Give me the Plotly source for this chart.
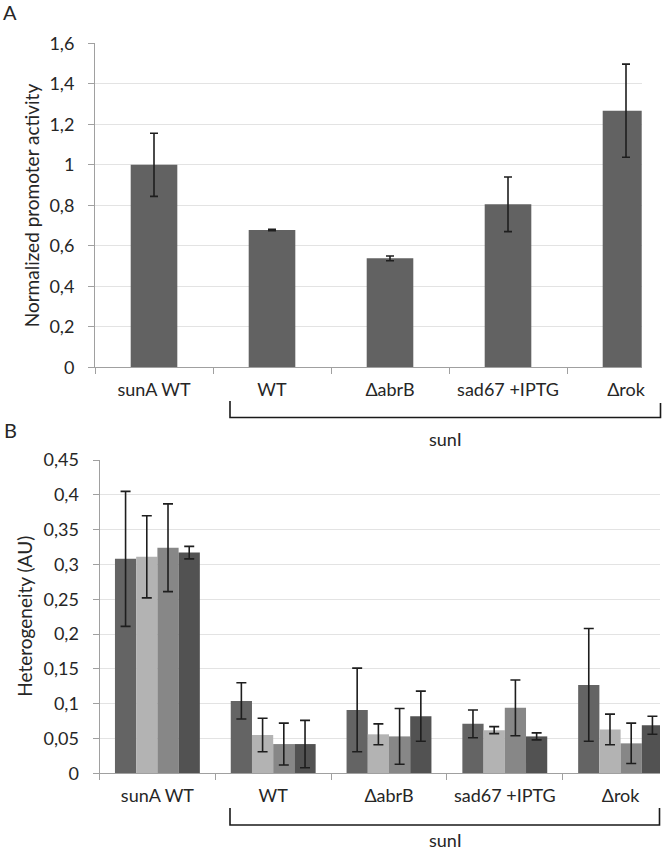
import plotly.graph_objects as go

W, H = 662, 853

# ---------------- data ----------------
categories = ["sunA WT", "WT", "ΔabrB", "sad67 +IPTG", "Δrok"]
group_label = "sunI"

# Panel A: normalized promoter activity
activity = [1.0, 0.678, 0.538, 0.805, 1.267]
activity_err = [0.156, 0.004, 0.012, 0.135, 0.23]

# Panel B: heterogeneity (AU), four replicates/series per category
het_s1 = [0.308, 0.104, 0.091, 0.071, 0.127]
het_s2 = [0.311, 0.055, 0.056, 0.062, 0.063]
het_s3 = [0.324, 0.042, 0.053, 0.094, 0.043]
het_s4 = [0.317, 0.042, 0.082, 0.053, 0.069]
het_s1_err = [0.097, 0.026, 0.060, 0.020, 0.081]
het_s2_err = [0.059, 0.024, 0.015, 0.005, 0.022]
het_s3_err = [0.063, 0.030, 0.040, 0.040, 0.029]
het_s4_err = [0.009, 0.034, 0.036, 0.005, 0.013]

yA_ticks = [0, 0.2, 0.4, 0.6, 0.8, 1, 1.2, 1.4, 1.6]
yB_ticks = [0, 0.05, 0.1, 0.15, 0.2, 0.25, 0.3, 0.35, 0.4, 0.45]

# ---------------- styling ----------------
FONT = "Lato"
TXT = "#262626"
AXIS = "#a0a0a0"
GRID = "#e3e3e3"
ERR = "#1e1e1e"


def px_x(x):
    return x / W


def px_y(y):
    return 1 - y / H


fig = go.Figure()

fig.add_trace(go.Bar(
    x=categories, y=activity, xaxis="x", yaxis="y",
    width=0.395, marker=dict(color="#626262", line=dict(width=0)),
    error_y=dict(type="data", array=activity_err, color=ERR, thickness=1.6, width=4),
    showlegend=False,
))

series = [
    (het_s1, het_s1_err, "#646464"),
    (het_s2, het_s2_err, "#b3b3b3"),
    (het_s3, het_s3_err, "#878787"),
    (het_s4, het_s4_err, "#525252"),
]
for vals, errs, col in series:
    fig.add_trace(go.Bar(
        x=categories, y=vals, xaxis="x2", yaxis="y2",
        marker=dict(color=col, line=dict(width=0)),
        error_y=dict(type="data", array=errs, color=ERR, thickness=1.6, width=5),
        showlegend=False,
    ))

# plot area geometry (pixels)
A_left, A_right, A_top, A_bot = 95, 641.7, 43.3, 367.3
B_left, B_right, B_top, B_bot = 99.5, 660, 460, 773.3
A_cat = 118.0
B_cat = 115.8

xaxis_common = dict(
    type="category", showline=True, linecolor=AXIS, linewidth=1,
    ticks="outside", ticklen=6, tickcolor=AXIS, tickwidth=1,
    tickson="boundaries", showgrid=False, zeroline=False, automargin=False,
    tickfont=dict(family=FONT, size=18, color=TXT), ticklabelstandoff=6,
)
yaxis_common = dict(
    showline=True, linecolor=AXIS, linewidth=1,
    ticks="outside", ticklen=6, tickcolor=AXIS, tickwidth=1, automargin=False,
    showgrid=True, gridcolor=GRID, gridwidth=1, zeroline=False,
    tickfont=dict(family=FONT, size=18, color=TXT), ticklabelstandoff=10,
)

fig.update_layout(
    width=W, height=H, autosize=False,
    margin=dict(l=0, r=0, t=0, b=0, pad=0, autoexpand=False),
    paper_bgcolor="white", plot_bgcolor="white",
    separators=", ",
    barmode="group", bargap=0.267, bargroupgap=0,
    font=dict(family=FONT, color=TXT),
    xaxis=dict(**xaxis_common, domain=[px_x(A_left), px_x(A_right)],
               range=[-0.5, -0.5 + (A_right - A_left) / A_cat], anchor="y"),
    yaxis=dict(**yaxis_common, domain=[px_y(A_bot), px_y(A_top)],
               range=[0, 1.6], tickvals=yA_ticks, anchor="x"),
    xaxis2=dict(**xaxis_common, domain=[px_x(B_left), px_x(B_right)],
                range=[-0.5, -0.5 + (B_right - B_left) / B_cat], anchor="y2"),
    yaxis2=dict(**yaxis_common, domain=[px_y(B_bot), px_y(B_top)],
                range=[0, 0.45], tickvals=yB_ticks, anchor="x2"),
)

annotations = []
shapes = []


def add_text(text, x, y, size, angle=0):
    annotations.append(dict(
        text=text, x=px_x(x), y=px_y(y), xref="paper", yref="paper",
        showarrow=False, textangle=angle, xanchor="center", yanchor="middle",
        font=dict(family=FONT, size=size, color=TXT),
    ))


def add_bracket(x0, x1, ytop_l, ytop_r, ybot):
    path = (f"M {px_x(x0)} {px_y(ytop_l)} L {px_x(x0)} {px_y(ybot)} "
            f"L {px_x(x1)} {px_y(ybot)} L {px_x(x1)} {px_y(ytop_r)}")
    shapes.append(dict(type="path", path=path, xref="paper", yref="paper",
                       line=dict(color="#1a1a1a", width=1.6)))


add_text("A", 10, 12, 20)
add_text("B", 10, 430, 20)
add_text("Normalized promoter activity", 31, (A_top + A_bot) / 2, 19, -90)
add_text("Heterogeneity (AU)", 25, (B_top + B_bot) / 2, 19, -90)

add_bracket(230, 660.5, 401, 403, 417.5)
add_text(group_label, 445, 439, 18)
add_bracket(230, 659.5, 808, 808, 825)
add_text(group_label, 445, 840, 18)

fig.update_layout(annotations=annotations, shapes=shapes)

fig.write_html(
    "out.html",
    config={"displayModeBar": False},
    post_script="document.body.style.margin='0px';document.body.style.padding='0px';",
)
